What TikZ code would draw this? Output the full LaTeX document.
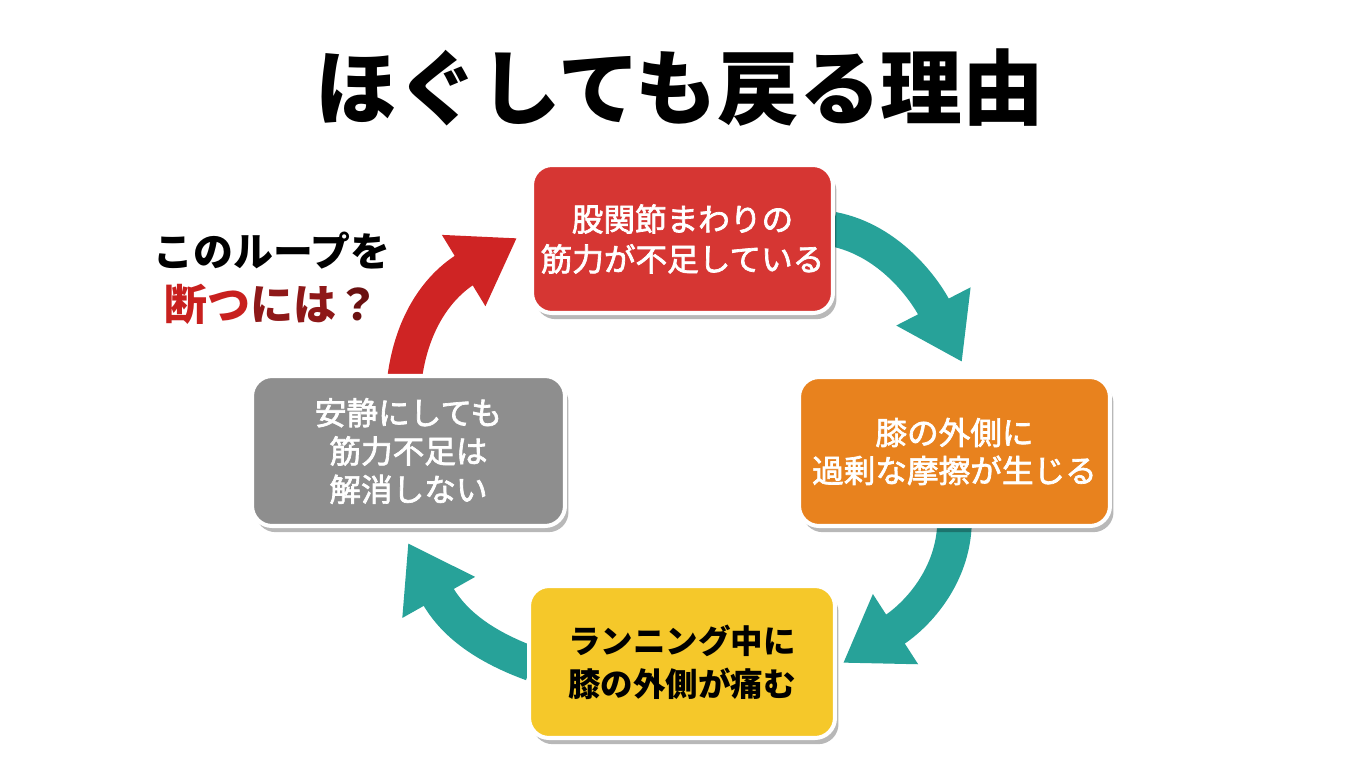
\documentclass[tikz,border=0pt]{standalone}
\usepackage{fontspec}
\newfontfamily\jp{Noto Sans CJK JP}
\newfontfamily\jpm[FakeBold=2.2]{Noto Sans CJK JP}
\usetikzlibrary{arrows.meta,shadows,calc}
\definecolor{boxred}{HTML}{D63633}
\definecolor{boxorange}{HTML}{E8821E}
\definecolor{boxyellow}{HTML}{F5C82A}
\definecolor{boxgray}{HTML}{8E8E8E}
\definecolor{tealarr}{HTML}{27A299}
\definecolor{redarr}{HTML}{CF2424}
\definecolor{qred}{HTML}{C8201E}
\definecolor{qdark}{HTML}{8E1818}
\definecolor{qdarker}{HTML}{6A1010}
\begin{document}
\begin{tikzpicture}[x=0.02cm,y=-0.02cm,
  cyclebox/.style={draw=white, line width=2.3pt, rounded corners=0.4cm, align=center,
    inner sep=0pt,
    drop shadow={shadow xshift=2pt, shadow yshift=-3.5pt, opacity=0.28, fill=black}},
  whitetext/.style={text=white, font=\jpm\fontsize{18pt}{22.7pt}\selectfont},
  loop arrow/.style={line width=0.69cm, -{Triangle[width=1.58cm,length=1.25cm]}},
]
\useasboundingbox (0,0) rectangle (1360,784);
\fill[white] (0,0) rectangle (1360,784);

% title
\node[font=\jp\bfseries\fontsize{46.5pt}{50pt}\selectfont] (title) at (680,88) {ほぐしても戻る理由};

% side question
\node[align=center, font=\jp\bfseries\fontsize{22.7pt}{31pt}\selectfont] (question) at (272,278)
  {このループを\\
  {\fontsize{24.5pt}{31pt}\selectfont\textcolor{qred}{断つ}\textcolor{qdark}{には}\textcolor{qdarker}{？}}};

% node positions (boxes drawn later, on top)
\coordinate (c1) at (682.5,239);
\coordinate (c2) at (954.5,451.5);
\coordinate (c3) at (682,662);
\coordinate (c4) at (408.5,451);

% arrow tips
\coordinate (t1) at (962,362);
\coordinate (t2) at (843,663);
\coordinate (t3) at (408,543);
\coordinate (t4) at (517,238);

% arrows (under the boxes)
\draw[loop arrow, tealarr] ($(c1)+(150,-10)$) .. controls (890,240) and (925,290) .. (t1);
\draw[loop arrow, tealarr] ($(c2)+(0,72)$) .. controls (953,575) and (919,614) .. (t2);
\draw[loop arrow, tealarr] ($(c3)+(-150,2)$) .. controls (480,645) and (452,621) .. (t3);
\draw[loop arrow, redarr] ($(c4)+(-4,-72)$) .. controls (412,320) and (440,285) .. (t4);

% boxes
\node[cyclebox, fill=boxred, minimum width=6.02cm, minimum height=2.96cm, whitetext] (red) at (c1)
  {股関節まわりの\\筋力が不足している};
\node[cyclebox, fill=boxorange, minimum width=6.22cm, minimum height=2.98cm, text=white,
  font=\jpm\fontsize{18pt}{21.6pt}\selectfont] (orange) at (c2)
  {膝の外側に\\過剰な摩擦が生じる};
\node[cyclebox, fill=boxyellow, minimum width=6.12cm, minimum height=3.04cm, text=black,
  font=\jp\bfseries\fontsize{18.5pt}{24.4pt}\selectfont] (yellow) at (c3)
  {ランニング中に\\膝の外側が痛む};
\node[cyclebox, fill=boxgray, minimum width=6.26cm, minimum height=3.0cm, text=white,
  font=\jpm\fontsize{18pt}{21.8pt}\selectfont] (gray) at (c4)
  {安静にしても\\筋力不足は\\解消しない};
\end{tikzpicture}
\end{document}
